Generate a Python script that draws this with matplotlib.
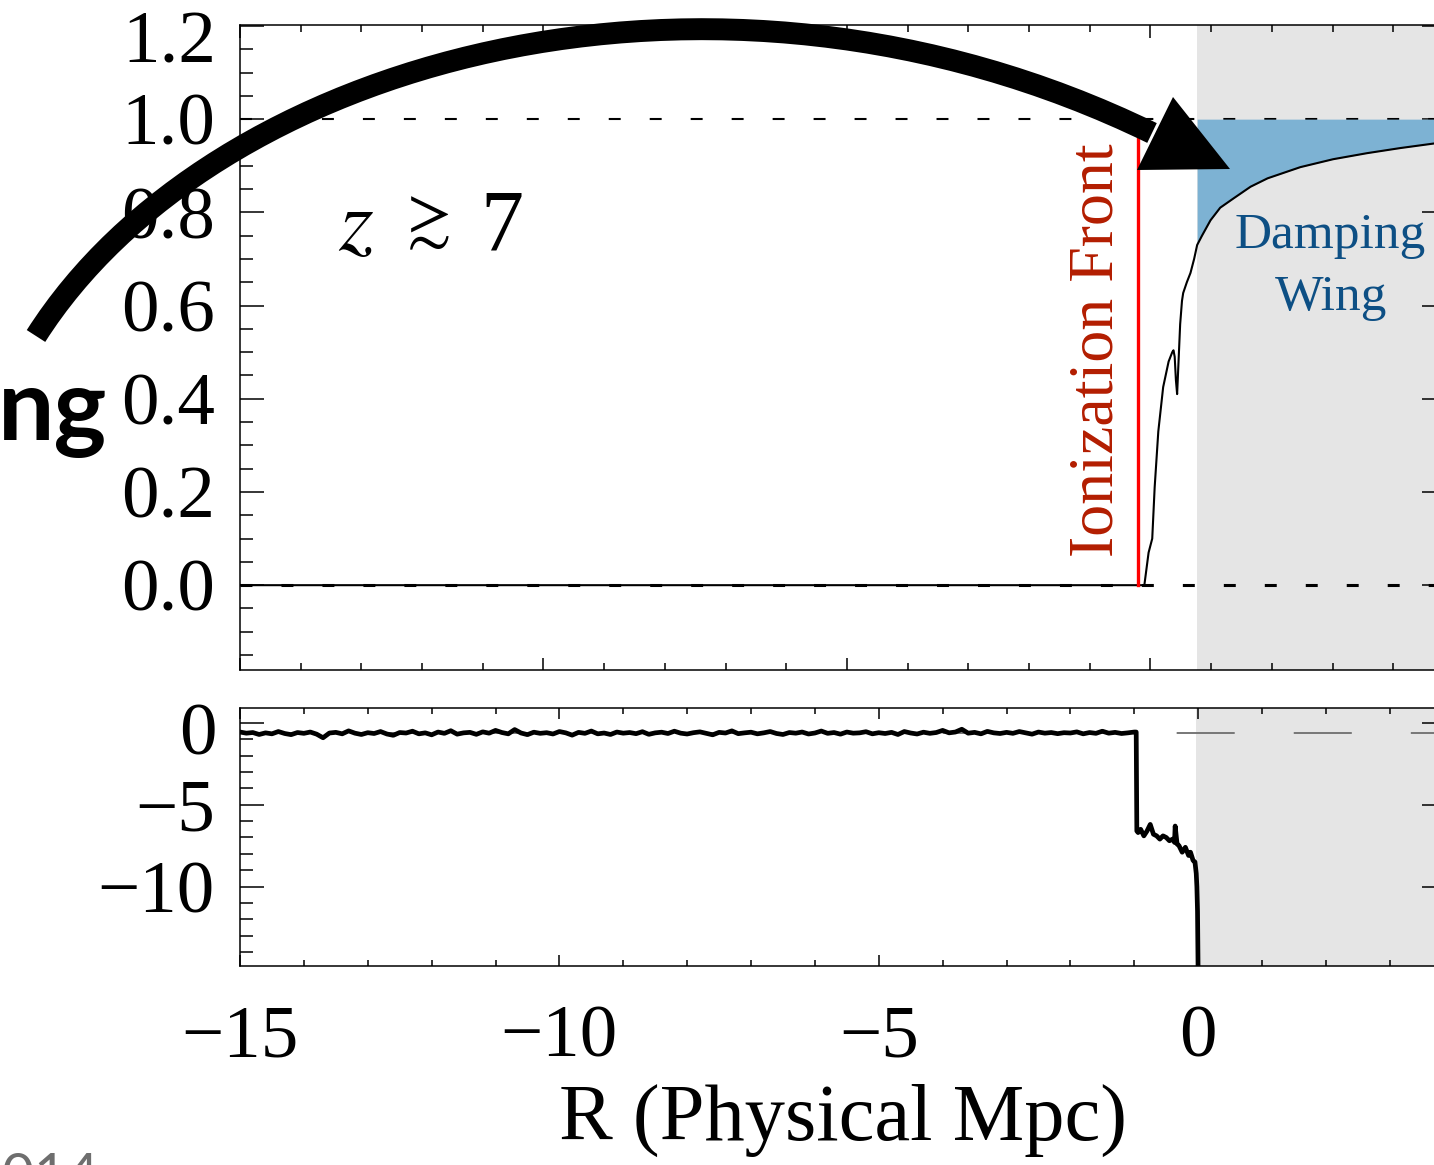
import numpy as np
import matplotlib.pyplot as plt
import matplotlib.transforms as mtransforms
from matplotlib.path import Path
from matplotlib.patches import PathPatch, Polygon
from matplotlib.ticker import MultipleLocator

plt.rcParams['font.family'] = 'Liberation Serif'
plt.rcParams['mathtext.fontset'] = 'stix'
plt.rcParams['lines.scale_dashes'] = False
plt.rcParams['axes.linewidth'] = 1.1

# --- transmitted flux near the quasar (upper panel) ---
r_flux = [-15.0, -0.10, -0.06, -0.03, 0.03, 0.07, 0.13, 0.21, 0.30, 0.36,
          0.38, 0.40, 0.42, 0.44, 0.46, 0.49, 0.52, 0.54, 0.60, 0.66,
          0.72, 0.77, 0.85, 0.99, 1.15, 1.37, 1.65, 1.93, 2.47, 3.01,
          3.57, 4.12, 4.80]
flux = [0.0, 0.0, 0.04, 0.07, 0.10, 0.21, 0.33, 0.425, 0.48, 0.50,
        0.504, 0.49, 0.44, 0.41, 0.47, 0.56, 0.61, 0.627, 0.65, 0.67,
        0.70, 0.73, 0.75, 0.783, 0.81, 0.83, 0.855, 0.873, 0.897, 0.914,
        0.927, 0.938, 0.95]
front_r = -0.21
front_top = 0.96
wing_start_top = 0.77

# --- log neutral fraction along the sightline (lower panel) ---
r_ion = np.round(np.linspace(-15.0, -1.0, 141), 2)
logx_ion = [
    -0.55, -0.62, -0.58, -0.70, -0.60, -0.66, -0.52, -0.64, -0.71, -0.58,
    -0.63, -0.55, -0.68, -0.90, -0.61, -0.57, -0.66, -0.48, -0.62, -0.70,
    -0.59, -0.64, -0.52, -0.67, -0.75, -0.58, -0.61, -0.50, -0.66, -0.60,
    -0.72, -0.55, -0.63, -0.47, -0.68, -0.60, -0.57, -0.69, -0.54, -0.62,
    -0.45, -0.58, -0.66, -0.40, -0.61, -0.71, -0.56, -0.63, -0.59, -0.67,
    -0.52, -0.60, -0.74, -0.57, -0.63, -0.49, -0.66, -0.61, -0.70, -0.55,
    -0.62, -0.58, -0.65, -0.53, -0.69, -0.60, -0.56, -0.64, -0.50, -0.62,
    -0.67, -0.59, -0.54, -0.63, -0.72, -0.57, -0.61, -0.48, -0.65, -0.60,
    -0.56, -0.66, -0.60, -0.52, -0.64, -0.70, -0.58, -0.62, -0.55, -0.67,
    -0.61, -0.49, -0.63, -0.58, -0.68, -0.55, -0.62, -0.60, -0.53, -0.66,
    -0.59, -0.64, -0.57, -0.70, -0.52, -0.61, -0.67, -0.56, -0.63, -0.58,
    -0.45, -0.60, -0.55, -0.38, -0.62, -0.57, -0.66, -0.51, -0.60, -0.64,
    -0.57, -0.63, -0.52, -0.60, -0.68, -0.55, -0.62, -0.58, -0.65, -0.59,
    -0.61, -0.54, -0.66, -0.58, -0.63, -0.50, -0.62, -0.57, -0.64, -0.60,
    -0.55]
r_neutral = [-0.97, -0.96, -0.94, -0.90, -0.85, -0.80, -0.75, -0.70, -0.65, -0.60,
             -0.55, -0.50, -0.45, -0.40, -0.37, -0.36, -0.33, -0.30, -0.25, -0.20,
             -0.15, -0.12, -0.08, -0.05, -0.03, -0.02, -0.01, 0.0]
logx_neutral = [-0.55, -6.6, -6.7, -6.5, -6.9, -6.6, -6.2, -6.8, -6.9, -7.1,
                -6.9, -7.0, -7.2, -7.1, -7.3, -6.3, -7.4, -7.5, -7.9, -7.6,
                -8.1, -7.9, -8.4, -8.5, -9.2, -10.0, -11.5, -15.5]
ref_level = -0.6
wing_start_bottom = -0.03

W, H = 1434, 1165
fig = plt.figure(figsize=(W / 100, H / 100), dpi=100)


def px_axes(left, top, right, bottom):
    return fig.add_axes([left / W, (H - bottom) / H, (right - left) / W, (bottom - top) / H])


grey = '#e5e5e5'
tick_font = 54

# upper panel
ax1 = px_axes(240, 25, 1446, 670)
ax1.set_xlim(-15, 4.87)
ax1.set_ylim(-0.182, 1.202)
ax1.axvspan(wing_start_top, 10, color=grey, lw=0, zorder=0)
ax1.axhline(1.0, color='k', lw=1.5, dashes=(8.6, 20.9), zorder=1)
ax1.axhline(0.0, color='k', lw=2.2, dashes=(8.6, 20.9), zorder=1)
r_arr = np.array(r_flux)
f_arr = np.array(flux)
ax1.fill_between(r_arr, f_arr, 1.0, where=r_arr >= wing_start_top,
                 color='#7db2d3', lw=0, zorder=2)
ax1.plot(r_arr, f_arr, color='k', lw=1.5, zorder=3)
ax1.plot([front_r, front_r], [0.0, front_top], color='#ff0000', lw=2.4, zorder=3)

ax1.text(front_r - 0.66, 0.504, 'Ionization Front', rotation=90, ha='center',
         va='center', fontsize=46, color='#b31d00')
ax1.text(2.97, 0.723, 'Damping', ha='center', va='baseline', fontsize=37,
         color='#0d4f84')
ax1.text(2.97, 0.590, 'Wing', ha='center', va='baseline', fontsize=37,
         color='#0d4f84')
# redshift label: italic z, compact "greater than or similar", 7
ax1.text(-13.09, 0.72, r'$z$', ha='center', va='baseline', fontsize=64)
ax1.text(-11.97, 0.775, r'$\gtrsim$', ha='center', va='center', fontsize=47)
ax1.text(-10.68, 0.72, '7', ha='center', va='baseline', fontsize=62)

ax1.set_yticks(np.arange(0, 1.21, 0.2))
ax1.set_yticklabels(['0.0', '0.2', '0.4', '0.6', '0.8', '1.0', ''])
ax1.yaxis.set_minor_locator(MultipleLocator(0.05))
ax1.set_xticks([-15, -10, -5, 0])
ax1.set_xticklabels([])
ax1.xaxis.set_minor_locator(MultipleLocator(1))
ax1.tick_params(which='both', direction='in', top=True, right=True, width=1.1,
                labelsize=tick_font, pad=18)
ax1.tick_params(axis='y', which='major', length=17)
ax1.tick_params(axis='y', which='minor', length=9)
ax1.tick_params(axis='x', which='major', length=9)
ax1.tick_params(axis='x', which='minor', length=5)
ax1.text(-0.0195, 1.159, '1.2', transform=ax1.get_yaxis_transform(),
         ha='right', va='center', fontsize=tick_font)

# lower panel
ax2 = px_axes(240, 708, 1446, 966)
ax2.set_xlim(-15, 3.88)
ax2.set_ylim(-14.86, 0.92)
ax2.axvspan(wing_start_bottom, 10, color=grey, lw=0, zorder=0)
ax2.axhline(ref_level, color='#777777', lw=1.4, dashes=(41.8, 42.5), zorder=1)
ax2.plot(np.concatenate([r_ion, r_neutral]), logx_ion + logx_neutral,
         color='k', lw=3.4, zorder=3)
ax2.set_yticks([0, -5, -10])
ax2.set_yticklabels(['', '\u22125', '\u221210'])
ax2.yaxis.set_minor_locator(MultipleLocator(1))
ax2.set_xticks([-15, -10, -5, 0])
ax2.set_xticklabels(['\u221215', '\u221210', '\u22125', '0'])
ax2.xaxis.set_minor_locator(MultipleLocator(1))
ax2.tick_params(which='both', direction='in', top=True, right=True, width=1.1,
                labelsize=tick_font)
ax2.tick_params(axis='y', which='major', length=17, pad=18)
ax2.tick_params(axis='y', which='minor', length=9)
ax2.tick_params(axis='x', which='major', length=8, pad=28)
ax2.tick_params(axis='x', which='minor', length=4)
ax2.text(-0.0195, -0.85, '0', transform=ax2.get_yaxis_transform(),
         ha='right', va='center', fontsize=tick_font)
ax2.set_xlabel('R (Physical Mpc)', fontsize=58, labelpad=8)

# slide overlay: curved arrow, partial title and date
px = mtransforms.Affine2D().scale(1 / W, -1 / H).translate(0, 1) + fig.transFigure
shaft = Path([(36, 336), (210, 62), (710, -82), (1152, 133)],
             [Path.MOVETO, Path.CURVE4, Path.CURVE4, Path.CURVE4])
fig.add_artist(PathPatch(shaft, transform=px, fill=False, lw=15.8,
                         capstyle='butt', color='k', zorder=10))
fig.add_artist(Polygon([(1137, 170), (1173, 97), (1230, 169)], closed=True,
                       transform=px, color='k', lw=0, zorder=10))
fig.text(107 / W, (H - 440) / H, 'ng', ha='right', va='baseline',
         fontsize=72, fontweight='bold', family='Lato')
fig.text(-30 / W, (H - 1152) / H, '2014', ha='left', va='top',
         fontsize=40, color='#6e6e6e', family='Lato')

fig.savefig('out.png', dpi=100)
